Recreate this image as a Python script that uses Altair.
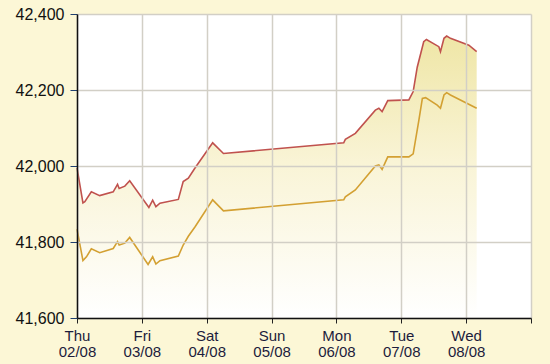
import altair as alt
import pandas as pd

sell_time = [
    "2012-08-02T00:00", "2012-08-02T02:12", "2012-08-02T02:54", "2012-08-02T05:18",
    "2012-08-02T08:24", "2012-08-02T13:24", "2012-08-02T15:00", "2012-08-02T15:36",
    "2012-08-02T17:42", "2012-08-02T19:30", "2012-08-03T02:36", "2012-08-03T04:00",
    "2012-08-03T05:12", "2012-08-03T06:42", "2012-08-03T13:30", "2012-08-03T15:18",
    "2012-08-03T17:12", "2012-08-03T19:36", "2012-08-04T02:12", "2012-08-04T06:12",
    "2012-08-06T02:42", "2012-08-06T03:18", "2012-08-06T07:00", "2012-08-06T14:24",
    "2012-08-06T15:42", "2012-08-06T16:54", "2012-08-06T19:00", "2012-08-07T02:48",
    "2012-08-07T04:24", "2012-08-07T05:54", "2012-08-07T08:18", "2012-08-07T09:18",
    "2012-08-07T13:54", "2012-08-07T14:30", "2012-08-07T15:48", "2012-08-07T16:48",
    "2012-08-07T18:12", "2012-08-08T01:00", "2012-08-08T03:54",
]
sell_value = [
    41995, 41903, 41906, 41932, 41922, 41932, 41952, 41941, 41947, 41961,
    41891, 41910, 41893, 41902, 41912, 41959, 41968, 41994, 42061, 42033,
    42061, 42070, 42086, 42147, 42152, 42143, 42172, 42174, 42196, 42260,
    42327, 42333, 42314, 42301, 42336, 42342, 42336, 42318, 42301,
]

buy_time = [
    "2012-08-02T00:00", "2012-08-02T02:12", "2012-08-02T03:30", "2012-08-02T05:18",
    "2012-08-02T08:24", "2012-08-02T13:24", "2012-08-02T15:00", "2012-08-02T15:36",
    "2012-08-02T17:42", "2012-08-02T19:30", "2012-08-03T02:18", "2012-08-03T04:00",
    "2012-08-03T05:12", "2012-08-03T06:42", "2012-08-03T13:30", "2012-08-03T15:18",
    "2012-08-03T17:12", "2012-08-03T19:42", "2012-08-04T02:12", "2012-08-04T06:12",
    "2012-08-06T02:42", "2012-08-06T03:18", "2012-08-06T07:00", "2012-08-06T14:24",
    "2012-08-06T15:42", "2012-08-06T16:54", "2012-08-06T19:00", "2012-08-07T02:48",
    "2012-08-07T04:24", "2012-08-07T06:30", "2012-08-07T07:48", "2012-08-07T09:00",
    "2012-08-07T13:18", "2012-08-07T14:30", "2012-08-07T15:48", "2012-08-07T16:48",
    "2012-08-07T18:12", "2012-08-08T03:54",
]
buy_value = [
    41834, 41751, 41761, 41782, 41772, 41783, 41801, 41792, 41797, 41812,
    41741, 41761, 41742, 41751, 41763, 41792, 41815, 41840, 41911, 41882,
    41911, 41919, 41937, 42000, 42003, 41991, 42024, 42024, 42032, 42120,
    42178, 42180, 42160, 42152, 42187, 42193, 42187, 42152,
]

day_ticks = [
    "2012-08-02T00:00", "2012-08-03T00:00", "2012-08-04T00:00", "2012-08-05T00:00",
    "2012-08-06T00:00", "2012-08-07T00:00", "2012-08-08T00:00", "2012-08-09T00:00",
]
y_ticks = [41600, 41800, 42000, 42200, 42400]

sell = pd.DataFrame({"time": sell_time, "value": sell_value})
buy = pd.DataFrame({"time": buy_time, "value": buy_value})

x_scale = alt.Scale(domain=[day_ticks[0], day_ticks[-1]])
y_scale = alt.Scale(domain=[y_ticks[0], y_ticks[-1]], nice=False, zero=False)

x_enc = alt.X(
    "time:T",
    scale=x_scale,
    title=None,
    axis=alt.Axis(
        values=[{"year": 2012, "month": 8, "date": d} for d in range(2, 10)],
        labelExpr="date(datum.value) == 9 ? '' : [timeFormat(datum.value, '%a'), timeFormat(datum.value, '%d/%m')]",
        labelFont="Liberation Sans",
        labelFontSize=15,
        labelColor="#1c1c3c",
        labelLineHeight=16,
        labelPadding=5,
        tickSize=5,
        tickColor="#222222",
        domainColor="#111111",
        domainWidth=1.5,
        gridColor="#D2CFC6",
        gridWidth=1.5,
        labelFlush=False,
        zindex=1,
    ),
)
y_axis = alt.Axis(
    values=y_ticks,
    format=",d",
    labelFont="Liberation Sans",
    labelFontSize=16,
    labelColor="#111111",
    labelPadding=6,
    tickSize=7,
    tickColor="#1f3f6f",
    domainColor="#111111",
    domainWidth=1.5,
    gridColor="#D2CFC6",
    gridWidth=1.5,
    title=None,
    zindex=1,
)

area = alt.Chart(sell).mark_area(
    color=alt.Gradient(
        gradient="linear",
        stops=[
            alt.GradientStop(color="#EFE6A6", offset=0),
            alt.GradientStop(color="#F9F4D6", offset=0.45),
            alt.GradientStop(color="#FFFFFF", offset=1),
        ],
        x1=0, x2=0, y1=0, y2=1,
    ),
    opacity=1,
).encode(
    x=x_enc,
    y=alt.Y("value:Q", scale=y_scale, axis=y_axis),
    y2=alt.datum(41600),
)

sell_line = alt.Chart(sell).mark_line(color="#C0524E", strokeWidth=1.6).encode(
    x=alt.X("time:T", scale=x_scale),
    y=alt.Y("value:Q", scale=y_scale),
)
buy_line = alt.Chart(buy).mark_line(color="#D3A032", strokeWidth=1.6).encode(
    x=alt.X("time:T", scale=x_scale),
    y=alt.Y("value:Q", scale=y_scale),
)

chart = (
    alt.layer(area, sell_line, buy_line)
    .properties(
        width=454,
        height=304,
        background="#FCF7D6",
        padding={"left": 77, "top": 14, "right": 19, "bottom": 46},
        autosize=alt.AutoSizeParams(type="none"),
    )
    .configure_view(fill="#FFFFFF", stroke=None)
)

chart.save("out.html", embed_options={"renderer": "svg", "actions": False})
